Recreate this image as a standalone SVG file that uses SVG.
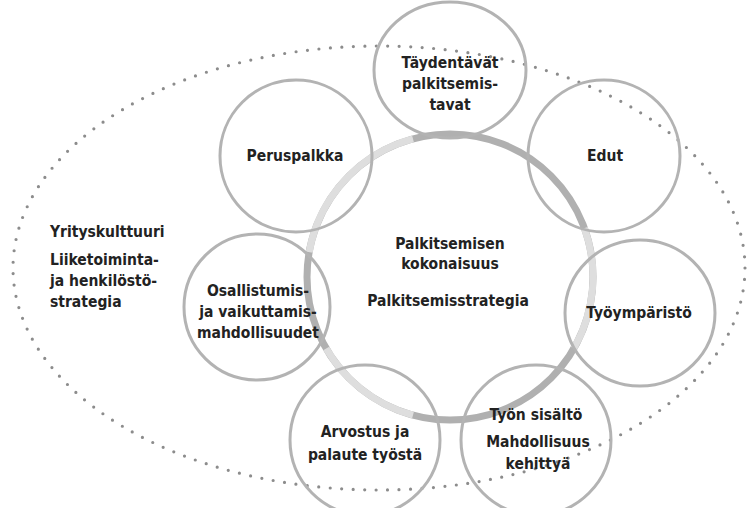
<svg xmlns="http://www.w3.org/2000/svg" width="749" height="508" viewBox="0 0 749 508">
<style>
.node{fill:none;stroke:#b3b3b3;stroke-width:3}
.t{font-family:"DejaVu Sans Condensed","DejaVu Sans","Liberation Sans",sans-serif;font-size:15.5px;font-weight:bold;fill:#222;text-anchor:middle}
.l{text-anchor:start}
.ring{fill:none;stroke:#b0b0b0;stroke-width:7}
.ringl{fill:none;stroke:#dedede;stroke-width:7}
.dots{fill:none;stroke:#8c8c8c;stroke-width:3.2;stroke-linecap:round;stroke-dasharray:0 11.5}
</style>
<rect width="749" height="508" fill="#ffffff"/>
<g id="context">
<ellipse class="dots" cx="379" cy="268" rx="366" ry="222"/>
<text class="t l" x="50" y="237">Yrityskulttuuri</text>
<text class="t l" x="50" y="265">Liiketoiminta-</text>
<text class="t l" x="50" y="286">ja henkilöstö-</text>
<text class="t l" x="50" y="307">strategia</text>
</g>
<g id="center">
<circle class="ring" cx="450" cy="277" r="143"/>
<path class="ringl" d="M309.2,252.1 A143,143 0 0 1 413,138.9"/>
<path class="ringl" d="M413,415.1 A143,143 0 0 1 326.2,348.5"/>
<path class="ringl" d="M584.4,228.1 A143,143 0 0 1 573.8,348.5"/>
<text class="t" x="450" y="249">Palkitsemisen</text>
<text class="t" x="450" y="269">kokonaisuus</text>
<text class="t" x="448" y="306">Palkitsemisstrategia</text>
</g>
<g id="n-taydentavat">
<ellipse class="node" cx="450" cy="70" rx="76" ry="68"/>
<text class="t" x="450" y="68">Täydentävät</text>
<text class="t" x="450" y="89">palkitsemis-</text>
<text class="t" x="450" y="110">tavat</text>
</g>
<g id="n-peruspalkka">
<ellipse class="node" cx="296" cy="156" rx="76" ry="76"/>
<text class="t" x="295" y="161">Peruspalkka</text>
</g>
<g id="n-edut">
<ellipse class="node" cx="604" cy="156" rx="76" ry="76"/>
<text class="t" x="605" y="161">Edut</text>
</g>
<g id="n-osallistumis">
<ellipse class="node" cx="257" cy="307" rx="73" ry="73"/>
<text class="t" x="258" y="296">Osallistumis-</text>
<text class="t" x="258" y="317">ja vaikuttamis-</text>
<text class="t" x="258" y="338">mahdollisuudet</text>
</g>
<g id="n-tyoymparisto">
<ellipse class="node" cx="640" cy="313" rx="75" ry="73"/>
<text class="t" x="639" y="318">Työympäristö</text>
</g>
<g id="n-arvostus">
<ellipse class="node" cx="365" cy="440" rx="75" ry="75"/>
<text class="t" x="365" y="437">Arvostus ja</text>
<text class="t" x="365" y="460">palaute työstä</text>
</g>
<g id="n-tyonsisalto">
<ellipse class="node" cx="536" cy="440" rx="75" ry="75"/>
<text class="t" x="536" y="420">Työn sisältö</text>
<text class="t" x="538" y="447">Mahdollisuus</text>
<text class="t" x="538" y="469">kehittyä</text>
</g>
<g id="connectors"></g>
</svg>
